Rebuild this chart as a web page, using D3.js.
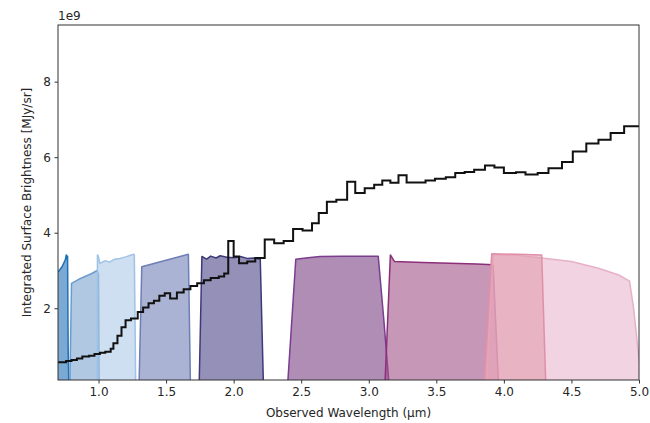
<!DOCTYPE html>
<html>
<head>
<meta charset="utf-8">
<script src="https://cdn.jsdelivr.net/npm/d3@7"></script>
<style>
  body { margin: 0; background: #fff; }
  svg text { font-family: "DejaVu Sans", sans-serif; fill: #262626; }
</style>
</head>
<body>
<div id="chart"></div>
<script>
// integrated spectrum, step edges (um) and values (1e9 MJy/sr)
var stepWave = [0.70, 0.76, 0.80, 0.84, 0.88, 0.93, 0.97, 1.01, 1.05, 1.09, 1.11, 1.14, 1.17, 1.20, 1.24,
  1.29, 1.33, 1.37, 1.41, 1.45, 1.49, 1.53, 1.58, 1.63, 1.68, 1.73, 1.78, 1.83, 1.89, 1.93, 1.96,
  2.00, 2.04, 2.10, 2.16, 2.23, 2.30, 2.37, 2.44, 2.51, 2.58, 2.63, 2.69, 2.76, 2.84, 2.90, 2.97,
  3.04, 3.10, 3.16, 3.22, 3.28, 3.35, 3.42, 3.49, 3.57, 3.64, 3.71, 3.78, 3.86, 3.93, 4.00, 4.09,
  4.16, 4.25, 4.33, 4.43, 4.51, 4.61, 4.70, 4.79, 4.89, 5.00];
var stepFlux = [0.57, 0.60, 0.63, 0.67, 0.72, 0.74, 0.79, 0.82, 0.85, 0.93, 1.07, 1.27, 1.50, 1.68, 1.73,
  1.90, 2.02, 2.13, 2.20, 2.33, 2.40, 2.26, 2.42, 2.50, 2.59, 2.66, 2.74, 2.80, 2.84, 2.92, 3.78,
  3.37, 3.19, 3.24, 3.33, 3.82, 3.72, 3.78, 4.10, 4.06, 4.25, 4.52, 4.82, 4.87, 5.35, 5.05, 5.18,
  5.27, 5.38, 5.32, 5.52, 5.33, 5.33, 5.38, 5.43, 5.47, 5.58, 5.61, 5.67, 5.78, 5.73, 5.58, 5.60,
  5.54, 5.58, 5.71, 5.87, 6.15, 6.36, 6.46, 6.64, 6.82, 6.82];

// filter curves, scaled to the same units
var f1Wave = [0.68, 0.70, 0.705, 0.73, 0.754, 0.761, 0.766, 0.771, 0.775, 0.78];
var f1Val  = [2.95, 2.97, 2.98, 3.10, 3.28, 3.41, 3.30, 3.38, 1.0, 0];
var f2Wave = [0.788, 0.80, 0.85, 0.90, 0.95, 0.99, 1.0, 1.005];
var f2Val  = [0, 2.66, 2.76, 2.84, 2.92, 3.0, 2.9, 0];
var f3Wave = [0.99, 0.992, 0.998, 1.01, 1.05, 1.08, 1.12, 1.16, 1.20, 1.26, 1.265, 1.275];
var f3Val  = [0, 3.41, 3.38, 3.19, 3.26, 3.22, 3.30, 3.32, 3.36, 3.43, 3.40, 0];
var f4Wave = [1.30, 1.32, 1.665, 1.68];
var f4Val  = [0, 3.10, 3.43, 0];
var f5Wave = [1.745, 1.765, 1.80, 1.83, 1.87, 1.90, 1.95, 2.00, 2.05, 2.10, 2.15, 2.197, 2.22];
var f5Val  = [0, 3.37, 3.30, 3.38, 3.33, 3.39, 3.35, 3.34, 3.37, 3.32, 3.33, 3.30, 0];
var f6Wave = [2.40, 2.46, 2.55, 2.64, 2.80, 2.95, 3.07, 3.11, 3.15];
var f6Val  = [0, 3.30, 3.34, 3.37, 3.38, 3.38, 3.38, 1.75, 0];
var f7Wave = [3.12, 3.16, 3.19, 3.40, 3.60, 3.80, 3.92, 3.96];
var f7Val  = [0, 3.41, 3.24, 3.21, 3.19, 3.17, 3.15, 0];
var f8Wave = [3.85, 3.91, 4.10, 4.28, 4.31];
var f8Val  = [0, 3.44, 3.43, 3.41, 0];
var f9Wave = [3.87, 3.92, 4.10, 4.28, 4.50, 4.70, 4.85, 4.93, 4.96, 4.99, 5.02];
var f9Val  = [0, 3.42, 3.40, 3.33, 3.24, 3.06, 2.88, 2.72, 2.0, 1.0, 0];

var filterColors = ["#2171b5", "#7ba3cf", "#accae6", "#7180b6", "#4e4689", "#7b4184", "#a25289", "#e29eaf", "#e8b6cd"];
var strokeColors = ["#2171b5", "#6c9ccf", "#9ec3e6", "#6e7eb6", "#3d3a7a", "#7a3d8f", "#8c2f7a", "#e08fa8", "#e6b0c8"];
var xTicks = [1.0, 1.5, 2.0, 2.5, 3.0, 3.5, 4.0, 4.5, 5.0];
var yTicks = [2, 4, 6, 8];

(function() {
  var filters = [
    [f1Wave, f1Val], [f2Wave, f2Val], [f3Wave, f3Val], [f4Wave, f4Val], [f5Wave, f5Val],
    [f6Wave, f6Val], [f7Wave, f7Val], [f9Wave, f9Val], [f8Wave, f8Val]
  ];
  var filterColorIdx = [0, 1, 2, 3, 4, 5, 6, 8, 7];

  var width = 650, height = 423;
  var mLeft = 58, mRight = 639, mTop = 25, mBottom = 380;

  var x = d3.scaleLinear().domain([0.70, 5.0]).range([mLeft, mRight]);
  var y = d3.scaleLinear().domain([0.1, 9.5]).range([mBottom, mTop]);

  var svg = d3.select("#chart").append("svg")
    .attr("width", width)
    .attr("height", height);

  svg.append("clipPath").attr("id", "plotclip")
    .append("rect")
    .attr("x", mLeft).attr("y", mTop)
    .attr("width", mRight - mLeft).attr("height", mBottom - mTop);

  var plot = svg.append("g").attr("clip-path", "url(#plotclip)");

  var area = d3.area()
    .x(function(d) { return x(d[0]); })
    .y0(y(0))
    .y1(function(d) { return y(d[1]); });

  filters.forEach(function(f, i) {
    var pts = f[0].map(function(w, j) { return [w, f[1][j]]; });
    var k = filterColorIdx[i];
    plot.append("path")
      .datum(pts)
      .attr("d", area)
      .attr("fill", filterColors[k])
      .attr("fill-opacity", 0.6)
      .attr("stroke", strokeColors[k])
      .attr("stroke-width", 1.5)
      .attr("stroke-linejoin", "round");
  });

  var stepPts = stepWave.map(function(w, j) { return [w, stepFlux[j]]; });
  var line = d3.line()
    .x(function(d) { return x(d[0]); })
    .y(function(d) { return y(d[1]); })
    .curve(d3.curveStepAfter);

  plot.append("path")
    .datum(stepPts)
    .attr("d", line)
    .attr("fill", "none")
    .attr("stroke", "#111")
    .attr("stroke-width", 2);

  // axes
  var xAxis = d3.axisBottom(x).tickValues(xTicks).tickFormat(d3.format(".1f")).tickSize(3.5).tickPadding(3.5);
  var yAxis = d3.axisLeft(y).tickValues(yTicks).tickFormat(d3.format("d")).tickSize(3.5).tickPadding(3.5);

  var gx = svg.append("g").attr("transform", "translate(0," + mBottom + ")").call(xAxis);
  var gy = svg.append("g").attr("transform", "translate(" + mLeft + ",0)").call(yAxis);
  [gx, gy].forEach(function(g) {
    g.select(".domain").remove();
    g.selectAll(".tick line").attr("stroke", "#333");
    g.selectAll(".tick text").attr("font-size", 12).attr("fill", "#262626").style("font-family", "DejaVu Sans");
  });

  svg.append("rect")
    .attr("x", mLeft).attr("y", mTop)
    .attr("width", mRight - mLeft).attr("height", mBottom - mTop)
    .attr("fill", "none")
    .attr("stroke", "#333")
    .attr("stroke-width", 1);

  svg.append("text")
    .attr("x", mLeft).attr("y", 20)
    .attr("font-size", 12)
    .text("1e9");

  svg.append("text")
    .attr("x", (mLeft + mRight) / 2).attr("y", 417)
    .attr("text-anchor", "middle")
    .attr("font-size", 12)
    .text("Observed Wavelength (\u03bcm)");

  svg.append("text")
    .attr("transform", "translate(31," + ((mTop + mBottom) / 2) + ") rotate(-90)")
    .attr("text-anchor", "middle")
    .attr("font-size", 12)
    .text("Integrated Surface Brightness [MJy/sr]");
})();
</script>
</body>
</html>
